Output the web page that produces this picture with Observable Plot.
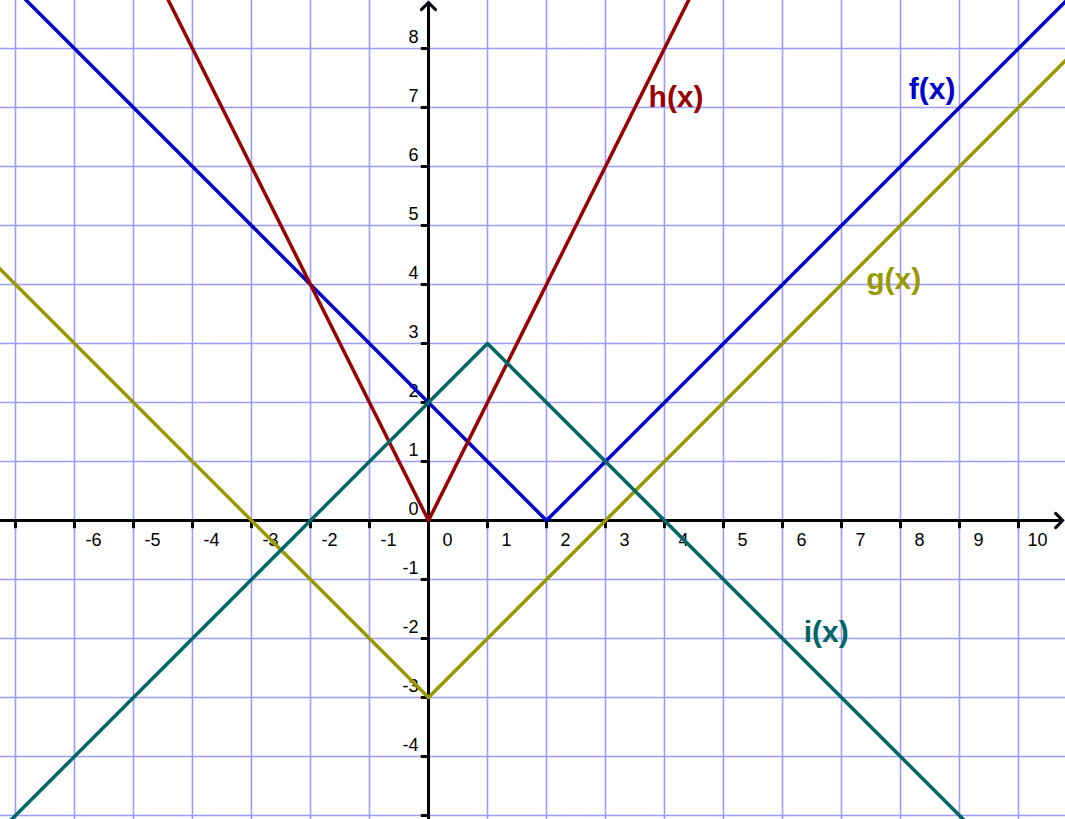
<!DOCTYPE html>
<html>
<head>
<meta charset="utf-8">
<script src="https://cdn.jsdelivr.net/npm/d3@7"></script>
<script src="https://cdn.jsdelivr.net/npm/@observablehq/plot@0.6"></script>
<style>
  html, body { margin: 0; padding: 0; background: white; }
  #chart svg { display: block; }
</style>
</head>
<body>
<div id="chart"></div>
<script>
// Visible window (data units)
const xDomain = [-7.254, 10.797];
const yDomain = [-5.068, 8.814];

// Grid lines and ticks
const gridX = [-7, -6, -5, -4, -3, -2, -1, 0, 1, 2, 3, 4, 5, 6, 7, 8, 9, 10];
const gridY = [-5, -4, -3, -2, -1, 0, 1, 2, 3, 4, 5, 6, 7, 8];
const xTicks = [-7, -6, -5, -4, -3, -2, -1, 1, 2, 3, 4, 5, 6, 7, 8, 9, 10];
const yTicks = [-5, -4, -3, -2, -1, 1, 2, 3, 4, 5, 6, 7, 8];
const xTickLabelValues = [-6, -5, -4, -3, -2, -1, 0, 1, 2, 3, 4, 5, 6, 7, 8, 9, 10];
const xTickLabels = ["-6", "-5", "-4", "-3", "-2", "-1", "0", "1", "2", "3", "4", "5", "6", "7", "8", "9", "10"];
const yTickLabelValues = [8, 7, 6, 5, 4, 3, 2, 1, 0, -1, -2, -3, -4];
const yTickLabels = ["8", "7", "6", "5", "4", "3", "2", "1", "0", "-1", "-2", "-3", "-4"];

// Axis arrow ends
const xAxisEnds = [-7.254, 10.75];
const yAxisEnds = [-5.068, 8.78];

// Function polylines (vertices)
const fX = [-8, 2, 11],  fY = [10, 0, 9];
const gX = [-8, 0, 11],  gY = [5, -3, 8];
const hX = [-5, 0, 5],   hY = [10, 0, 10];
const iX = [-8, 1, 11],  iY = [-6, 3, -7];

// Function labels
const labelNames = ["f(x)", "g(x)", "h(x)", "i(x)"];
const labelX = [8.14, 7.42, 3.73, 6.36];
const labelY = [7.3, 4.08, 7.17, -1.9];
const colors = ["#0000cc", "#999900", "#990000", "#006666"];

const series = [
  {name: "f", xs: fX, ys: fY, color: colors[0]},
  {name: "g", xs: gX, ys: gY, color: colors[1]},
  {name: "h", xs: hX, ys: hY, color: colors[2]},
  {name: "i", xs: iX, ys: iY, color: colors[3]}
];
const lineData = series.flatMap(s => s.xs.map((x, k) => ({name: s.name, x, y: s.ys[k], color: s.color})));
const labelData = labelNames.map((t, k) => ({t, x: labelX[k], y: labelY[k], color: colors[k]}));

const tickLen = 0.13;
const font = "Arial, 'Liberation Sans', sans-serif";

const chart = Plot.plot({
  width: 1065,
  height: 819,
  margin: 0,
  style: {background: "white", fontFamily: font},
  x: {domain: xDomain, axis: null},
  y: {domain: yDomain, axis: null},
  marks: [
    Plot.ruleX(gridX, {x: d => d, stroke: "#9c9cff", strokeWidth: 1.6}),
    Plot.ruleY(gridY, {y: d => d, stroke: "#9c9cff", strokeWidth: 1.6}),
    Plot.arrow([0], {x1: xAxisEnds[0], x2: xAxisEnds[1], y1: 0, y2: 0, stroke: "black", strokeWidth: 3, headLength: 5, headAngle: 90}),
    Plot.arrow([0], {x1: 0, x2: 0, y1: yAxisEnds[0], y2: yAxisEnds[1], stroke: "black", strokeWidth: 3, headLength: 5, headAngle: 90}),
    Plot.link(xTicks, {x1: d => d, x2: d => d, y1: 0, y2: -tickLen, stroke: "black", strokeWidth: 3}),
    Plot.link(yTicks, {y1: d => d, y2: d => d, x1: 0, x2: -tickLen, stroke: "black", strokeWidth: 3}),
    Plot.text(xTickLabelValues, {x: d => d, y: 0, text: (d, k) => xTickLabels[k], dx: 19, dy: 20, fontSize: 18, fill: "black", textAnchor: "middle", lineAnchor: "middle"}),
    Plot.text(yTickLabelValues, {x: 0, y: d => d, text: (d, k) => yTickLabels[k], dx: -10, dy: -11, fontSize: 18, fill: "black", textAnchor: "end", lineAnchor: "middle"}),
    Plot.line(lineData, {x: "x", y: "y", z: "name", stroke: "color", strokeWidth: 3.5, clip: true}),
    Plot.text(labelData, {x: "x", y: "y", text: "t", fill: "color", fontSize: 30, fontWeight: "bold", textAnchor: "start", lineAnchor: "middle"})
  ]
});
document.getElementById("chart").appendChild(chart);
</script>
</body>
</html>
